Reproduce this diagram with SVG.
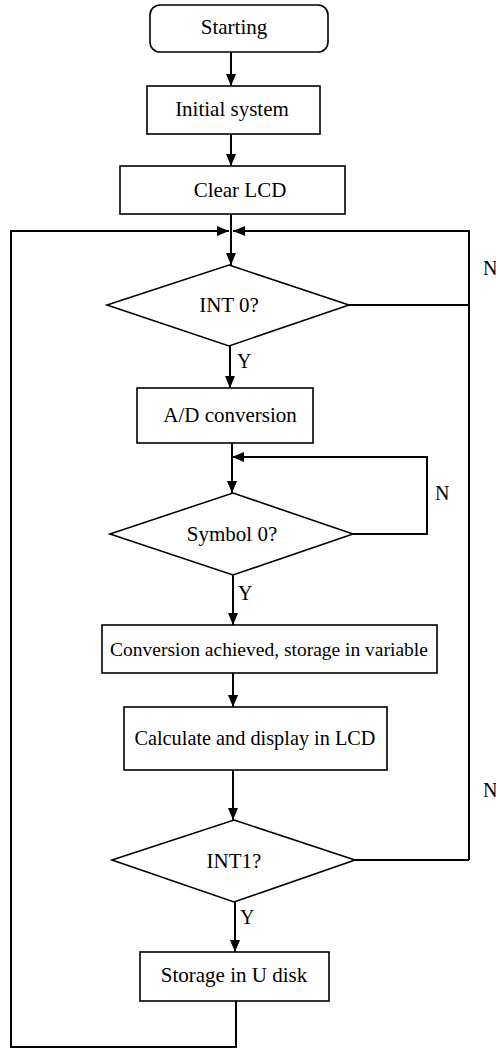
<svg xmlns="http://www.w3.org/2000/svg" width="496" height="1049" viewBox="0 0 496 1049">
<style>
.box{fill:#fff;stroke:#000;stroke-width:1.6}
.ln{fill:none;stroke:#000;stroke-width:2}
.t{font-family:"Liberation Serif",serif;font-size:21px;fill:#000;text-anchor:middle}
.l{font-family:"Liberation Serif",serif;font-size:20px;fill:#000}
</style>
<defs>
<marker id="ar" viewBox="0 0 12 12" refX="12" refY="6" markerWidth="12" markerHeight="12" markerUnits="userSpaceOnUse" orient="auto">
<path d="M0,1 L12,6 L0,11 Z" fill="#000"/>
</marker>
</defs>
<g id="connectors">
<line class="ln" x1="231" y1="52" x2="231" y2="86" marker-end="url(#ar)"/>
<line class="ln" x1="231" y1="134" x2="231" y2="166" marker-end="url(#ar)"/>
<line class="ln" x1="231" y1="214" x2="231" y2="265" marker-end="url(#ar)"/>
<polyline class="ln" points="236,1001 236,1047 11,1047 11,231 229,231" marker-end="url(#ar)"/>
<polyline class="ln" points="469,860 469,231 233,231" marker-end="url(#ar)"/>
<line class="ln" x1="349" y1="305" x2="469" y2="305"/>
<line class="ln" x1="230" y1="346" x2="230" y2="388" marker-end="url(#ar)"/>
<line class="ln" x1="232" y1="443" x2="232" y2="493" marker-end="url(#ar)"/>
<polyline class="ln" points="353,534 427,534 427,457 232,457" marker-end="url(#ar)"/>
<line class="ln" x1="233" y1="575" x2="233" y2="625" marker-end="url(#ar)"/>
<line class="ln" x1="233" y1="673" x2="233" y2="707" marker-end="url(#ar)"/>
<line class="ln" x1="233" y1="770" x2="233" y2="820" marker-end="url(#ar)"/>
<line class="ln" x1="355" y1="860" x2="469" y2="860"/>
<line class="ln" x1="235" y1="902" x2="235" y2="952" marker-end="url(#ar)"/>
<text class="l" x="483" y="275">N</text>
<text class="l" x="237" y="368">Y</text>
<text class="l" x="435" y="500">N</text>
<text class="l" x="238" y="600">Y</text>
<text class="l" x="483" y="797">N</text>
<text class="l" x="240" y="924">Y</text>
</g>
<g id="start"><rect class="box" x="150" y="5" width="178" height="47" rx="10"/><text class="t" x="234" y="34">Starting</text></g>
<g id="init"><rect class="box" x="147" y="86" width="173" height="48"/><text class="t" x="232" y="116">Initial system</text></g>
<g id="clear"><rect class="box" x="120" y="166" width="225" height="48"/><text class="t" x="240" y="197">Clear LCD</text></g>
<g id="int0"><polygon class="box" points="229,265 349,305 229,346 107,305"/><text class="t" x="229" y="312">INT 0?</text></g>
<g id="ad"><rect class="box" x="137" y="388" width="176" height="55"/><text class="t" x="230" y="422">A/D conversion</text></g>
<g id="symbol"><polygon class="box" points="233,493 353,534 233,575 110,534"/><text class="t" x="232" y="541">Symbol 0?</text></g>
<g id="conv"><rect class="box" x="102" y="625" width="335" height="48"/><text class="t" x="269" y="656" style="font-size:19.5px">Conversion achieved, storage in variable</text></g>
<g id="calc"><rect class="box" x="124" y="707" width="263" height="63"/><text class="t" x="255" y="745" style="font-size:20.3px">Calculate and display in LCD</text></g>
<g id="int1"><polygon class="box" points="234,820 355,860 234,902 112,860"/><text class="t" x="234" y="868">INT1?</text></g>
<g id="storage"><rect class="box" x="140" y="952" width="189" height="49"/><text class="t" x="234" y="982">Storage in U disk</text></g>
</svg>
